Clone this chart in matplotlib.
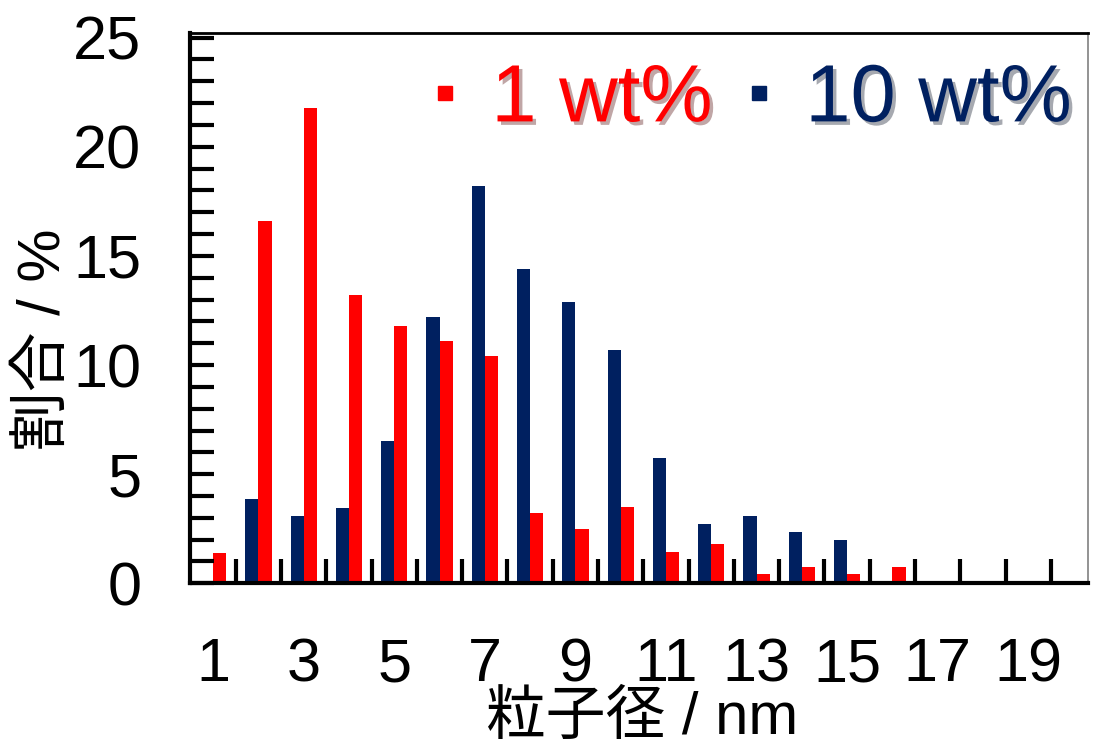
import numpy as np
import matplotlib
matplotlib.use("Agg")
import matplotlib.pyplot as plt
import matplotlib.patheffects as pe
from matplotlib.lines import Line2D
from matplotlib.ticker import MultipleLocator, FixedLocator

plt.rcParams['font.family'] = ['Liberation Sans', 'Noto Sans CJK JP', 'DejaVu Sans']

# particle size classes (nm) and share in %
sizes = np.arange(1, 21)
wt1 = [1.4, 16.6, 21.8, 13.2, 11.8, 11.1, 10.4, 3.2, 2.5, 3.5,
       1.45, 1.8, 0.43, 0.76, 0.43, 0.76, 0, 0, 0, 0]
wt10 = [0, 3.85, 3.1, 3.47, 6.53, 12.2, 18.2, 14.4, 12.9, 10.7,
        5.73, 2.71, 3.09, 2.35, 1.97, 0, 0, 0, 0, 0]
labels = ["1 wt%", "10 wt%"]
xticklabels = [str(v) for v in range(1, 20, 2)]

red = "#FF0000"
navy = "#002060"

fig = plt.figure(figsize=(10.95, 7.44), dpi=100)
ax = fig.add_axes([190 / 1095, 1 - 583.3 / 744, 898 / 1095, 550 / 744])

w = 0.29
ax.bar(sizes, wt10, width=-w, align="edge", color=navy)
ax.bar(sizes, wt1, width=w, align="edge", color=red)

ax.set_xlim(0.49, 20.32)
ax.set_ylim(0, 25.2)

# y axis: labelled every 5, ticks every 1, pointing inward
ax.yaxis.set_major_locator(MultipleLocator(5))
ax.yaxis.set_minor_locator(MultipleLocator(1))
ax.tick_params(axis="y", which="both", direction="in", length=17, width=3,
               labelsize=44, pad=35, right=False)

# x axis: labels on odd sizes, tick marks between the classes
ax.xaxis.set_major_locator(FixedLocator(range(1, 20, 2)))
ax.set_xticklabels(xticklabels)
ax.xaxis.set_minor_locator(FixedLocator(np.arange(1.5, 20, 1)))
ax.tick_params(axis="x", which="major", length=0, labelsize=44, pad=39)
ax.tick_params(axis="x", which="minor", direction="in", length=17, width=3, top=False)

for s in ["left", "bottom"]:
    ax.spines[s].set_linewidth(3)
ax.spines["top"].set_linewidth(2)
ax.spines["right"].set_linewidth(1.2)
ax.spines["right"].set_color("#808080")

# legend: small square markers, coloured text with a soft shadow
handles = [Line2D([], [], ls="none", marker="s", markersize=10, color=c)
           for c in [red, navy]]
shadow = [pe.SimplePatchShadow(offset=(2.5, -2.5), alpha=0.35), pe.Normal()]
leg = ax.legend(handles=handles, labels=labels, ncol=2, frameon=False,
                fontsize=58.5, loc="center right", bbox_to_anchor=(0.982, 0.878),
                handlelength=0.2, handletextpad=0.47, columnspacing=0.47,
                borderaxespad=0, borderpad=0, numpoints=1)
for txt, c in zip(leg.get_texts(), [red, navy]):
    txt.set_color(c)
    txt.set_path_effects(shadow)

fig.text(44 / 1095, 1 - 340 / 744, "割合 / %", rotation=90, fontsize=43,
         ha="center", va="center")
fig.text(642 / 1095, 1 - 718 / 744, "粒子径 / nm", fontsize=43,
         ha="center", va="center")

fig.savefig("out.png", dpi=100)
